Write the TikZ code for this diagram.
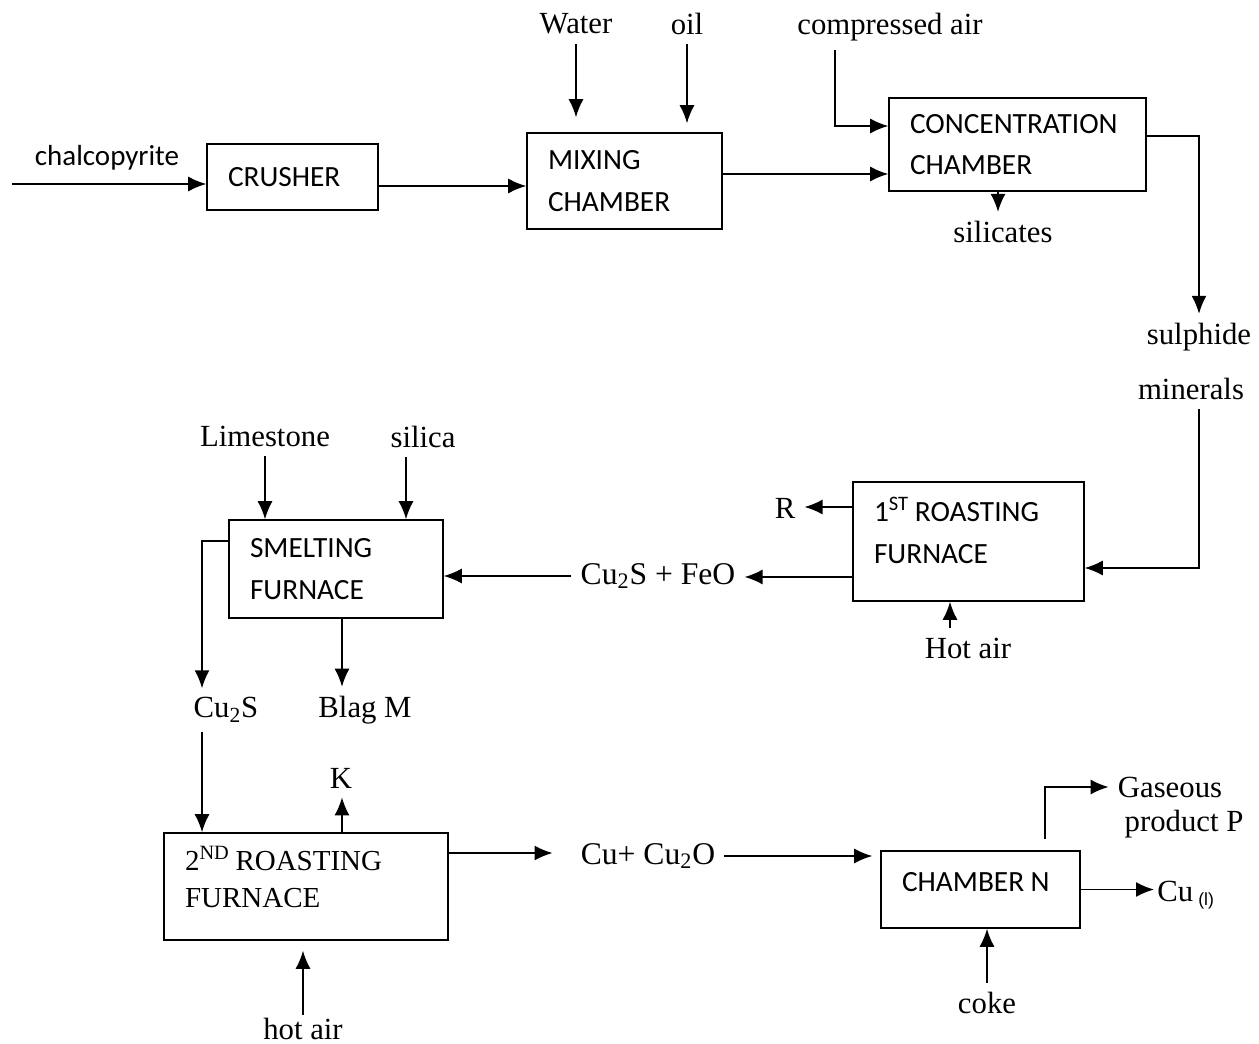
\documentclass[tikz,border=0pt]{standalone}
\usepackage{fontspec}
\setmainfont{Liberation Serif}
\newfontfamily\boxfont{Carlito}
\newfontfamily\subfont{Liberation Sans}
\newcommand\boxtype{\boxfont\fontsize{16.7}{23.5}\selectfont}
\usetikzlibrary{arrows.meta}

\begin{document}
\begin{tikzpicture}[x=0.02cm,y=-0.02cm,line width=0.9pt,>={Latex[length=3.6mm,width=3mm]},
		box/.style={draw,font=\boxtype,align=left,inner xsep=0.42cm,inner ysep=0pt},
		lbl/.style={font=\fontsize{17.5}{21}\selectfont,inner sep=0.17cm}]
			\useasboundingbox (0,0) rectangle (1259,1044);

			\node[box,text width=2.58cm,minimum height=1.32cm] (crusher) at (292.5,177) {CRUSHER};
			\node[box,text width=3.06cm,minimum height=1.92cm] (mixing) at (624.5,181) {MIXING\\CHAMBER};
			\node[box,text width=4.30cm,minimum height=1.86cm] (conc) at (1017.5,144.5) {CONCENTRATION\\CHAMBER};
			\node[box,text width=3.78cm,minimum height=2.38cm,text depth=1.27cm] (roastA) at (968.5,541.5) {1\textsuperscript{ST}\hspace{0.2em}ROASTING\\FURNACE};
			\node[box,text width=3.44cm,minimum height=1.96cm] (smelt) at (336,569) {SMELTING\\FURNACE};
			\node[box,text width=4.84cm,minimum height=2.14cm,text depth=1.14cm,font=\fontsize{16.5}{21.5}\selectfont] (roastB) at (306,886.5) {2\textsuperscript{ND}\hspace{0.2em}ROASTING\\FURNACE};
			\node[box,text width=3.14cm,minimum height=1.54cm,text depth=0.32cm] (chamN) at (980.5,889.5) {CHAMBER\hspace{0.22em}N};

			\node[lbl,font=\boxfont\fontsize{16.5}{20}\selectfont] (chalco) at (107,158) {chalcopyrite};
			\node[lbl] (water) at (576,24) {Water};
			\node[lbl] (oil) at (687,24) {oil};
			\node[lbl] (air) at (890,27) {compressed air};
			\node[lbl] (silicates) at (1003,232) {silicates};
			\node[lbl] (sulphide) at (1199,337) {sulphide};
			\node[lbl] (minerals) at (1191,389) {minerals};
			\node[lbl] (R) at (785,508) {R};
			\node[lbl,font=\fontsize{18}{21}\selectfont] (cufeo) at (658,576) {Cu\textsubscript{2}S + FeO};
			\node[lbl] (hotairA) at (968,648) {Hot air};
			\node[lbl] (lime) at (265,436) {Limestone};
			\node[lbl] (silica) at (423,437) {silica};
			\node[lbl] (cus) at (226,710) {Cu\textsubscript{2}S};
			\node[lbl] (blag) at (365,710) {Blag M};
			\node[lbl] (K) at (341,778) {K};
			\node[lbl,inner sep=0.05cm] (hotairB) at (303,1029) {hot air};
			\node[lbl,font=\fontsize{18}{21}\selectfont] (cucuo) at (648,856) {Cu+ Cu\textsubscript{2}O};
			\node[lbl] (gas) at (1170,787) {Gaseous};
			\node[lbl] (prod) at (1184,824) {product P};
			\node[lbl,inner sep=0.05cm,anchor=west] (cul) at (1154,895) {Cu\,\raisebox{-2pt}{\subfont\fontsize{10}{12}\selectfont(l)}};
			\node[lbl] (coke) at (987,1003) {coke};

			\coordinate (feed) at (12,184);
			\coordinate (airbend) at (835,126);
			\coordinate (silbend) at (998,0);

			\draw[->] (feed) -- (feed -| crusher.west);
			\draw[->] ([yshift=-0.18cm]crusher.east) -- ([yshift=-0.18cm]crusher.east -| mixing.west);
			\draw[->,shorten >=0.3cm] (water.south) -- (water.south |- mixing.north);
			\draw[->,shorten >=0.18cm] (oil.south) -- (oil.south |- mixing.north);
			\draw[->] (airbend |- air.south) -- (airbend) -- (airbend -| conc.west);
			\draw[->] ([yshift=0.14cm]mixing.east) -- ([yshift=0.14cm]mixing.east -| conc.west);
			\draw[->] (silbend |- conc.south) -- (silbend |- silicates.north);
			\draw[->] ([yshift=0.17cm]conc.east) -| (sulphide.north);
			\draw[->] (minerals.south -| sulphide.north) |- ([yshift=-0.53cm]roastA.east);
			\draw[->] ([yshift=0.69cm]roastA.west) -- ([yshift=0.69cm]roastA.west -| R.east);
			\draw[->] ([yshift=-0.71cm]roastA.west) -- ([yshift=-0.71cm]roastA.west -| cufeo.east);
			\draw[->] (cufeo.west) -- (smelt.east |- cufeo.west);
			\draw[->] ([xshift=-0.37cm]roastA.south |- hotairA.north) -- ([xshift=-0.37cm]roastA.south);
			\draw[->] (lime.south) -- (lime.south |- smelt.north);
			\draw[->] ([xshift=-0.34cm]silica.south) -- ([xshift=-0.34cm]silica.south |- smelt.north);
			\draw[->] ([yshift=0.56cm]smelt.west) -| ([xshift=-0.48cm]cus.north);
			\draw[->] ([xshift=0.12cm]smelt.south) -- ([xshift=0.12cm]smelt.south |- blag.north);
			\draw[->] ([xshift=-0.48cm]cus.south) -- ([xshift=-0.48cm]cus.south |- roastB.north);
			\draw[->] ([xshift=0.72cm]roastB.north) -- ([xshift=0.72cm]roastB.north |- K.south);
			\draw[->,shorten >=0.2cm] (hotairB.north) -- (hotairB.north |- roastB.south);
			\draw[->,shorten >=0.38cm] ([yshift=0.67cm]roastB.east) -- ([yshift=0.67cm]roastB.east -| cucuo.west);
			\draw[->,shorten >=0.16cm] (cucuo.east) -- (cucuo.east -| chamN.west);
			\draw[->,shorten <=0.22cm] ([xshift=1.29cm]chamN.north) |- (gas.west);
			\draw[->] (chamN.east) -- (chamN.east -| cul.west);
			\draw[->] (coke.north) -- (coke.north |- chamN.south);
		\end{tikzpicture}
\end{document}
